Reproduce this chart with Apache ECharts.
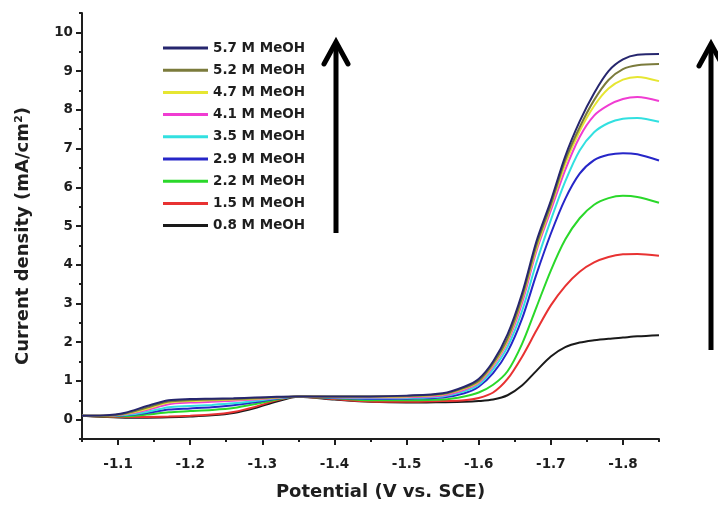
<!DOCTYPE html>
<html>
<head>
<meta charset="utf-8">
<script src="https://cdn.jsdelivr.net/npm/echarts@6/dist/echarts.min.js"></script>
<style>
html,body{margin:0;padding:0;background:#fff;}
#chart{width:718px;height:506px;}
</style>
</head>
<body>
<div id="chart"></div>
<script>
const potentials = [-1.05, -1.08, -1.11, -1.14, -1.17, -1.20, -1.23, -1.26, -1.29, -1.32, -1.35, -1.40, -1.45, -1.50, -1.55, -1.58,
  -1.60, -1.62, -1.64, -1.66, -1.68, -1.70, -1.72, -1.74, -1.76, -1.78, -1.80, -1.82, -1.85];

const seriesNames = ['5.7 M MeOH', '5.2 M MeOH', '4.7 M MeOH', '4.1 M MeOH', '3.5 M MeOH', '2.9 M MeOH', '2.2 M MeOH', '1.5 M MeOH', '0.8 M MeOH'];
const seriesColors = ['#26266e', '#7b7b3c', '#e6e632', '#f03cd2', '#32e0e0', '#2626c8', '#2ad82a', '#e83232', '#1a1a1a'];

const meoh57 = [0.10, 0.11, 0.18, 0.35, 0.50, 0.53, 0.54, 0.55, 0.57, 0.59, 0.60, 0.60, 0.60, 0.62, 0.68, 0.85,
  1.05, 1.50, 2.20, 3.25, 4.60, 5.65, 6.80, 7.70, 8.43, 9.00, 9.30, 9.42, 9.44];
const meoh52 = [0.10, 0.10, 0.16, 0.31, 0.47, 0.50, 0.52, 0.53, 0.55, 0.58, 0.60, 0.60, 0.60, 0.61, 0.66, 0.82,
  1.00, 1.45, 2.10, 3.15, 4.50, 5.55, 6.70, 7.55, 8.25, 8.77, 9.05, 9.15, 9.18];
const meoh47 = [0.10, 0.10, 0.15, 0.28, 0.44, 0.48, 0.50, 0.52, 0.54, 0.57, 0.60, 0.59, 0.59, 0.60, 0.65, 0.80,
  0.98, 1.42, 2.05, 3.10, 4.42, 5.50, 6.60, 7.45, 8.10, 8.55, 8.78, 8.85, 8.74];
const meoh41 = [0.10, 0.10, 0.14, 0.25, 0.40, 0.44, 0.46, 0.49, 0.52, 0.56, 0.60, 0.58, 0.57, 0.58, 0.62, 0.77,
  0.95, 1.38, 2.00, 3.00, 4.35, 5.40, 6.45, 7.30, 7.85, 8.12, 8.28, 8.33, 8.23];
const meoh35 = [0.10, 0.10, 0.12, 0.20, 0.32, 0.35, 0.38, 0.42, 0.48, 0.55, 0.60, 0.57, 0.55, 0.56, 0.60, 0.73,
  0.90, 1.30, 1.88, 2.80, 4.05, 5.15, 6.15, 6.95, 7.42, 7.66, 7.77, 7.79, 7.69];
const meoh29 = [0.10, 0.10, 0.11, 0.17, 0.26, 0.29, 0.32, 0.37, 0.45, 0.54, 0.60, 0.56, 0.53, 0.54, 0.57, 0.68,
  0.85, 1.20, 1.75, 2.60, 3.75, 4.80, 5.70, 6.35, 6.70, 6.84, 6.88, 6.85, 6.69];
const meoh22 = [0.10, 0.09, 0.09, 0.13, 0.19, 0.22, 0.25, 0.30, 0.40, 0.52, 0.60, 0.55, 0.50, 0.50, 0.52, 0.60,
  0.70, 0.90, 1.25, 1.95, 2.90, 3.85, 4.65, 5.20, 5.55, 5.72, 5.78, 5.75, 5.60];
const meoh15 = [0.10, 0.08, 0.07, 0.07, 0.08, 0.10, 0.13, 0.20, 0.33, 0.50, 0.60, 0.53, 0.47, 0.46, 0.48, 0.50,
  0.56, 0.70, 1.05, 1.62, 2.30, 2.95, 3.45, 3.82, 4.06, 4.20, 4.27, 4.28, 4.23];
const meoh08 = [0.10, 0.07, 0.05, 0.05, 0.06, 0.08, 0.11, 0.17, 0.30, 0.47, 0.59, 0.52, 0.46, 0.44, 0.45, 0.46,
  0.48, 0.52, 0.63, 0.88, 1.26, 1.63, 1.87, 1.99, 2.05, 2.09, 2.12, 2.15, 2.18];

const seriesValues = [meoh57, meoh52, meoh47, meoh41, meoh35, meoh29, meoh22, meoh15, meoh08];

const xMajor = [-1.1, -1.2, -1.3, -1.4, -1.5, -1.6, -1.7, -1.8];
const xMinor = [-1.05, -1.15, -1.25, -1.35, -1.45, -1.55, -1.65, -1.75, -1.85];
const yMajor = [0, 1, 2, 3, 4, 5, 6, 7, 8, 9, 10];
const yMinor = [-0.5, 0.5, 1.5, 2.5, 3.5, 4.5, 5.5, 6.5, 7.5, 8.5, 9.5, 10.5];

const FONT = 'DejaVu Sans, Liberation Sans, Arial, sans-serif';
const INK = '#1e1e1e';

const chart = echarts.init(document.getElementById('chart'), null, {renderer: 'canvas'});

const series = [];
for (let i = seriesNames.length - 1; i >= 0; i--) {
  series.push({
    name: seriesNames[i],
    type: 'line',
    xAxisIndex: 0,
    yAxisIndex: 0,
    data: potentials.map((p, k) => [p, seriesValues[i][k]]),
    smooth: 0.3,
    showSymbol: false,
    symbol: 'none',
    lineStyle: {width: 2, color: seriesColors[i]},
    itemStyle: {color: seriesColors[i]},
    animation: false
  });
}

const option = {
  animation: false,
  backgroundColor: '#ffffff',
  grid: {left: 82, right: 59, top: 13, bottom: 63, containLabel: false},
  legend: {
    data: seriesNames,
    orient: 'vertical',
    left: 163,
    top: 41,
    padding: 0,
    icon: 'rect',
    itemWidth: 45,
    itemHeight: 3,
    itemGap: 8.2,
    itemTextGap: 2,
    textStyle: {fontFamily: FONT, fontWeight: 'bold', fontSize: 13.5, color: INK, lineHeight: 14}
  },
  xAxis: [
    {
      type: 'value', min: -1.85, max: -1.05, inverse: true, position: 'bottom',
      name: 'Potential (V vs. SCE)', nameLocation: 'middle', nameGap: 44,
      nameTextStyle: {fontFamily: FONT, fontWeight: 'bold', fontSize: 18, color: INK, padding: [0, 0, 0, 20]},
      splitLine: {show: false},
      axisLine: {show: true, onZero: false, lineStyle: {color: INK, width: 2}},
      axisTick: {show: true, inside: false, length: 6, customValues: xMajor, lineStyle: {color: INK, width: 2}},
      axisLabel: {show: true, customValues: xMajor, margin: 18, fontFamily: FONT, fontWeight: 'bold', fontSize: 13.5, color: INK,
        formatter: v => v.toFixed(1)}
    },
    {
      type: 'value', min: -1.85, max: -1.05, inverse: true, position: 'bottom',
      splitLine: {show: false},
      axisLine: {show: false, onZero: false},
      axisTick: {show: true, inside: false, length: 3, customValues: xMinor, lineStyle: {color: INK, width: 2}},
      axisLabel: {show: false}
    }
  ],
  yAxis: [
    {
      type: 'value', min: -0.5, max: 10.5, position: 'left',
      name: 'Current density (mA/cm²)', nameLocation: 'middle', nameGap: 50,
      nameTextStyle: {fontFamily: FONT, fontWeight: 'bold', fontSize: 18, color: INK, padding: [0, 20, 0, 0]},
      splitLine: {show: false},
      axisLine: {show: true, onZero: false, lineStyle: {color: INK, width: 2}},
      axisTick: {show: true, inside: false, length: 6, customValues: yMajor, lineStyle: {color: INK, width: 2}},
      axisLabel: {show: true, customValues: yMajor, margin: 9, fontFamily: FONT, fontWeight: 'bold', fontSize: 13.5, color: INK}
    },
    {
      type: 'value', min: -0.5, max: 10.5, position: 'left',
      splitLine: {show: false},
      axisLine: {show: false, onZero: false},
      axisTick: {show: true, inside: false, length: 3, customValues: yMinor, lineStyle: {color: INK, width: 2}},
      axisLabel: {show: false}
    }
  ],
  series: series,
  graphic: [
    {type: 'line', shape: {x1: 336, y1: 233, x2: 336, y2: 43}, style: {stroke: '#000', lineWidth: 5}},
    {type: 'polyline', shape: {points: [[324, 64], [336, 42], [348, 64]]}, style: {stroke: '#000', lineWidth: 5, fill: null, lineCap: 'round', lineJoin: 'miter'}},
    {type: 'line', shape: {x1: 711, y1: 350, x2: 711, y2: 45}, style: {stroke: '#000', lineWidth: 5}},
    {type: 'polyline', shape: {points: [[699, 66], [711, 44], [723, 66]]}, style: {stroke: '#000', lineWidth: 5, fill: null, lineCap: 'round', lineJoin: 'miter'}}
  ]
};

chart.setOption(option);
</script>
</body>
</html>
